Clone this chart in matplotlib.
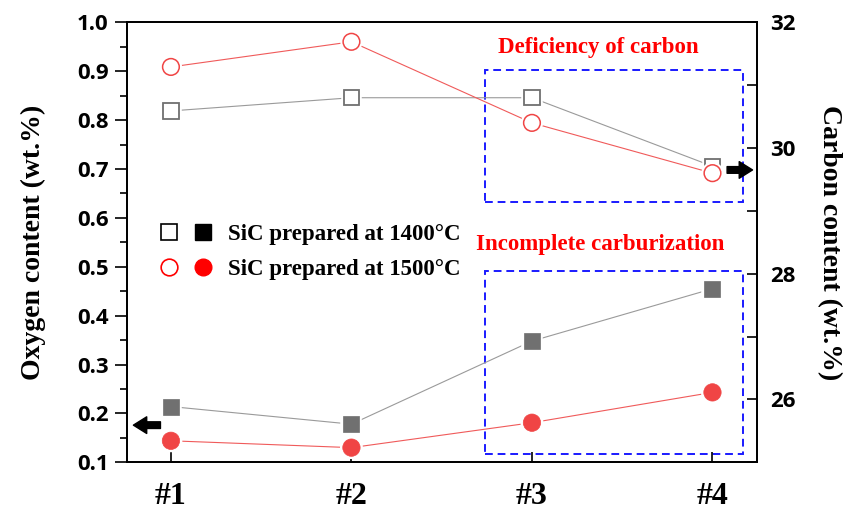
import numpy as np
import matplotlib
matplotlib.use("Agg")
import matplotlib.pyplot as plt
from matplotlib.lines import Line2D
from matplotlib.legend_handler import HandlerTuple
from matplotlib.patches import Rectangle
import matplotlib.patheffects as pe

# samples
samples = ["#1", "#2", "#3", "#4"]
x = np.arange(1, len(samples) + 1)

# oxygen content (wt.%), left axis, filled markers
oxy_1400 = [0.214, 0.178, 0.348, 0.455]
oxy_1500 = [0.144, 0.130, 0.181, 0.243]

# carbon content (wt.%), right axis, open markers
carb_1400 = [30.59, 30.80, 30.80, 29.71]
carb_1500 = [31.29, 31.69, 30.40, 29.60]

legend_labels = ["SiC prepared at 1400\u00b0C", "SiC prepared at 1500\u00b0C"]

gray_line, gray_mk = "#9a9a9a", "#707070"
red_line, red_mk = "#f05a5a", "#f04545"
serif = "Liberation Serif"
tickfont = "Open Sans"

halo = [pe.Stroke(linewidth=4, foreground="white"), pe.Normal()]

fig = plt.figure(figsize=(8.54, 5.18), dpi=100)
ax = fig.add_axes([126.7 / 854, 1 - 462.3 / 518, 630 / 854, 440 / 518])
ax2 = ax.twinx()

# filled markers -> oxygen
ax.plot(x, oxy_1400, color=gray_line, lw=0.8, zorder=2)
ax.plot(x, oxy_1400, ls="none", marker="s", ms=11.5, mfc=gray_mk, mec=gray_mk,
        mew=0.5, path_effects=halo, zorder=3)
ax.plot(x, oxy_1500, color=red_line, lw=0.8, zorder=2)
ax.plot(x, oxy_1500, ls="none", marker="o", ms=12.5, mfc=red_mk, mec=red_mk,
        mew=0.5, path_effects=halo, zorder=3)

# open markers -> carbon
ax2.plot(x, carb_1400, color=gray_line, lw=0.8, zorder=2)
ax2.plot(x, carb_1400, ls="none", marker="s", ms=11, mfc="white", mec=gray_mk,
         mew=1.3, path_effects=halo, zorder=3)
ax2.plot(x, carb_1500, color=red_line, lw=0.8, zorder=2)
ax2.plot(x, carb_1500, ls="none", marker="o", ms=12, mfc="white", mec=red_mk,
         mew=1.1, path_effects=halo, zorder=3)

ax.set_xlim(0.755, 4.245)
ax.set_ylim(0.1, 1.0)
ax2.set_ylim(25, 32)

ax.set_xticks(x)
ax.set_xticklabels(samples, fontfamily=serif, fontweight="bold", fontsize=23)
ax.set_yticks(np.arange(0.1, 1.01, 0.1))
ax.set_yticks(np.arange(0.15, 1.0, 0.1), minor=True)
ax.set_yticklabels([f"{v:.1f}" for v in np.arange(0.1, 1.01, 0.1)],
                   fontfamily=tickfont, fontweight="bold", fontsize=16)
ax2.set_yticks([26, 28, 30, 32])
ax2.set_yticks([25, 27, 29, 31], minor=True)
ax2.set_yticklabels(["26", "28", "30", "32"], fontfamily=tickfont,
                    fontweight="bold", fontsize=16)

ax.tick_params(axis="y", which="major", direction="out", length=9, width=1.2, pad=4)
ax.tick_params(axis="y", which="minor", direction="out", length=5, width=1.2)
ax.tick_params(axis="x", which="major", direction="in", length=7, width=1.2, pad=14)
ax2.tick_params(axis="y", which="major", direction="in", length=7, width=1.2, pad=10)
ax2.tick_params(axis="y", which="minor", direction="in", length=7, width=1.2)

for a in (ax, ax2):
    for s in a.spines.values():
        s.set_linewidth(1.3)

ax.set_ylabel("Oxygen content (wt.%)", fontfamily=serif, fontweight="bold",
              fontsize=20, labelpad=22)
ax2.set_ylabel("Carbon content (wt.%)", fontfamily=serif, fontweight="bold",
               fontsize=20, rotation=-90, labelpad=33)

# dashed boxes + notes
for (x0, x1, y0, y1) in [(2.741, 4.170, 0.633, 0.902), (2.741, 4.170, 0.117, 0.492)]:
    ax.add_patch(Rectangle((x0, y0), x1 - x0, y1 - y0, fill=False, ec="#1a1aff",
                           lw=1.4, ls=(0, (4, 2.5)), zorder=1))
ax.text(3.367, 0.949, "Deficiency of carbon", color="#ff0000", fontfamily=serif,
        fontweight="bold", fontsize=16.5, ha="center", va="center")
ax.text(3.378, 0.545, "Incomplete carburization", color="#ff0000", fontfamily=serif,
        fontweight="bold", fontsize=16.5, ha="center", va="center")

# arrows pointing to axes
arrow = dict(arrowstyle="simple,head_length=0.6,head_width=0.75,tail_width=0.3",
             color="black", shrinkA=0, shrinkB=0, mutation_scale=16)
ax.annotate("", xy=(0.792, 0.176), xytext=(0.942, 0.176), arrowprops=arrow)
ax.annotate("", xy=(4.222, 0.698), xytext=(4.081, 0.698), arrowprops=arrow)

# legend
h1 = (Line2D([], [], ls="none", marker="s", ms=11, mfc="white", mec="black", mew=1.2),
      Line2D([], [], ls="none", marker="s", ms=11, mfc="black", mec="black"))
h2 = (Line2D([], [], ls="none", marker="o", ms=12, mfc="white", mec="red", mew=1.2),
      Line2D([], [], ls="none", marker="o", ms=12, mfc="red", mec="red"))
ax.legend([h1, h2], legend_labels, handler_map={tuple: HandlerTuple(ndivide=None, pad=0.72)},
          loc="upper left", bbox_to_anchor=(0.020, 0.589), frameon=False, handlelength=2.25,
          handletextpad=0.74, labelspacing=0.6,
          prop=dict(family=serif, weight="bold", size=16.5))

fig.savefig("out.png", dpi=100)
